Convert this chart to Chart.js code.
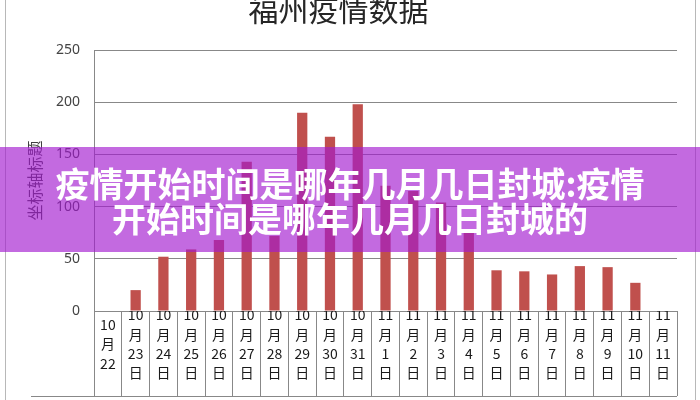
<!DOCTYPE html>
<html>
<head>
<meta charset="utf-8">
<script src="https://cdn.jsdelivr.net/npm/chart.js@4"></script>
<style>
  html, body { margin: 0; padding: 0; background: #fff; }
  #wrap { position: relative; width: 700px; height: 400px; overflow: hidden; }
  #edgeL { position: absolute; left: 5px; top: 0; width: 1px; height: 400px; background: #b8b8b8; }
  #edgeR { position: absolute; left: 695px; top: 0; width: 1px; height: 400px; background: #b8b8b8; }
  #banner {
    position: absolute; left: 0; top: 147px; width: 700px; height: 105px;
    background: rgba(163, 26, 208, 0.65);
    color: #fff; font: bold 34px "Noto Sans CJK SC", sans-serif;
    line-height: 35px; text-align: center;
    display: flex; flex-direction: column; justify-content: center;
  }
</style>
</head>
<body>
<div id="wrap">
  <div id="edgeL"></div>
  <div id="edgeR"></div>
  <canvas id="chart" width="700" height="400"></canvas>
  <div id="banner">疫情开始时间是哪年几月几日封城:疫情<br>开始时间是哪年几月几日封城的</div>
</div>
<script>
// categories (multi-line tick labels, as in the Excel table)
const dates = [
  ['10', '月', '22'],
  ['10', '月', '23', '日'], ['10', '月', '24', '日'], ['10', '月', '25', '日'],
  ['10', '月', '26', '日'], ['10', '月', '27', '日'], ['10', '月', '28', '日'],
  ['10', '月', '29', '日'], ['10', '月', '30', '日'], ['10', '月', '31', '日'],
  ['11', '月', '1', '日'], ['11', '月', '2', '日'], ['11', '月', '3', '日'],
  ['11', '月', '4', '日'], ['11', '月', '5', '日'], ['11', '月', '6', '日'],
  ['11', '月', '7', '日'], ['11', '月', '8', '日'], ['11', '月', '9', '日'],
  ['11', '月', '10', '日'], ['11', '月', '11', '日']
];

// daily cases
const cases = [
  null, 20, 52, 59, 68, 143, 72, 190, 167, 198,
  120, 115, 104, 78, 39, 38, 35, 43, 42, 27, null
];

const yTicks = [0, 50, 100, 150, 200, 250];

// bottom border of the label table
const tableLine = {
  id: 'tableLine',
  afterDraw(chart) {
    const { ctx, chartArea } = chart;
    const y = chartArea.bottom + 85.5;
    ctx.save();
    ctx.strokeStyle = '#888';
    ctx.lineWidth = 1;
    ctx.beginPath();
    ctx.moveTo(31, y);
    ctx.lineTo(chartArea.right, y);
    ctx.stroke();
    ctx.restore();
  }
};

new Chart(document.getElementById('chart'), {
  type: 'bar',
  data: {
    labels: dates,
    datasets: [{
      data: cases,
      backgroundColor: '#c0504d',
      categoryPercentage: 1,
      barPercentage: 0.37
    }]
  },
  options: {
    responsive: false,
    animation: false,
    layout: { padding: { left: 0, right: 23, top: 0, bottom: 0 } },
    plugins: {
      legend: { display: false },
      tooltip: { enabled: false },
      title: {
        display: true,
        text: '福州疫情数据',
        color: '#262626',
        font: { family: '"Noto Sans CJK SC", sans-serif', size: 30, weight: 'normal' },
        padding: { top: -8, bottom: 22 }
      }
    },
    scales: {
      x: {
        offset: true,
        grid: {
          offset: true,
          drawOnChartArea: false,
          drawTicks: true,
          tickLength: 85,
          color: '#888'
        },
        border: { display: true, color: '#888' },
        ticks: {
          padding: -81,
          crossAlign: 'center',
          maxRotation: 0,
          autoSkip: false,
          color: '#1a1a1a',
          font: { family: '"Noto Sans CJK SC", sans-serif', size: 14, lineHeight: 1.38 }
        },
        afterFit(scale) { scale.height = 89; }
      },
      y: {
        min: 0,
        max: 250,
        afterBuildTicks(scale) { scale.ticks = yTicks.map(v => ({ value: v })); },
        grid: { color: '#888', drawTicks: false },
        border: { display: true, color: '#888' },
        ticks: {
          padding: 14,
          color: '#444',
          font: { family: '"Noto Sans", sans-serif', size: 14 }
        },
        title: {
          display: true,
          text: '坐标轴标题',
          color: '#404040',
          font: { family: '"Noto Sans CJK SC", sans-serif', size: 16 },
          padding: { top: 25, bottom: 0 }
        },
        afterFit(scale) { scale.width = 94; }
      }
    }
  },
  plugins: [tableLine]
});
</script>
</body>
</html>
